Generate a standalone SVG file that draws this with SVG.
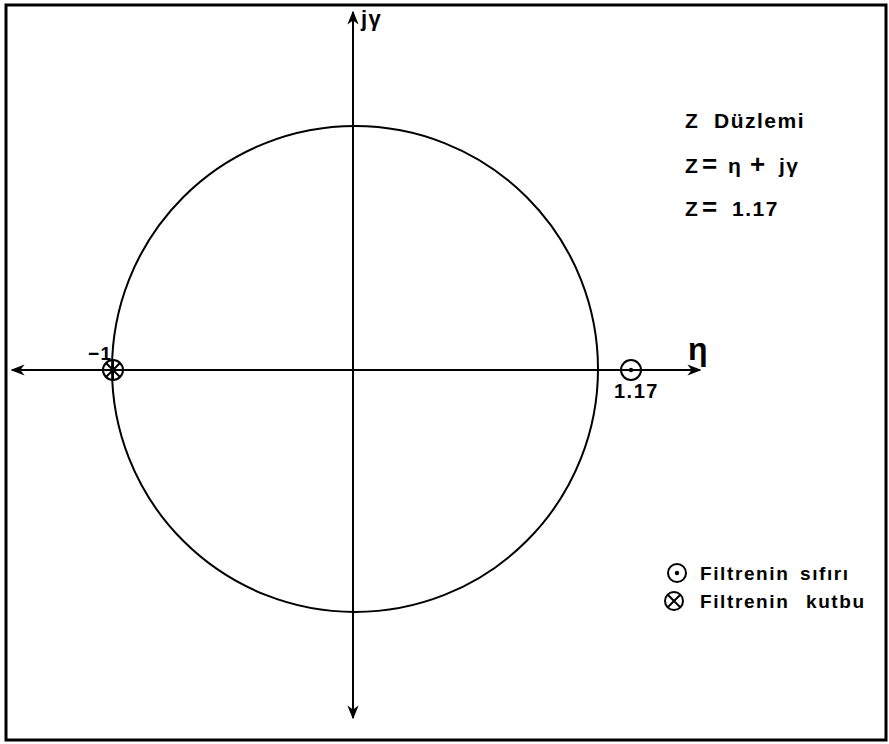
<svg xmlns="http://www.w3.org/2000/svg" width="889" height="744" viewBox="0 0 889 744">
<defs>
<marker id="ah" viewBox="0 0 10 10" refX="9" refY="5" markerWidth="14" markerHeight="14" markerUnits="userSpaceOnUse" orient="auto-start-reverse">
<path d="M0,1 L10,5 L0,9 L3,5 Z" fill="#000"/>
</marker>
</defs>
<style>
.ln{stroke:#000;fill:none;stroke-width:2}
.t{font-family:"Liberation Sans",Arial,sans-serif;font-weight:bold;font-size:21px;fill:#000;letter-spacing:1.5px}
.s{font-family:"Liberation Sans",Arial,sans-serif;font-weight:bold;font-size:19px;fill:#000;letter-spacing:1.6px}
.eq{font-size:26px}
</style>
<rect x="6" y="5" width="880" height="735" fill="#fff" stroke="#000" stroke-width="3"/>
<g id="connectors">
<line class="ln" x1="353" y1="718" x2="353" y2="12" marker-end="url(#ah)" marker-start="url(#ah)"/>
<line class="ln" x1="12" y1="370" x2="700" y2="370" marker-end="url(#ah)" marker-start="url(#ah)"/>
</g>
<g id="unit-circle"><circle class="ln" cx="355" cy="369" r="243"/></g>
<g id="pole">
<circle class="ln" cx="113" cy="370" r="10" stroke-width="2.5"/>
<path class="ln" d="M103,370 H123 M113,360 V380 M106,363 L120,377 M120,363 L106,377" stroke-width="1.8"/>
<text class="t" x="88" y="360" style="font-size:19px">−1</text>
</g>
<g id="zero">
<circle class="ln" cx="631" cy="370" r="10" stroke-width="2.2"/>
<circle cx="631" cy="370" r="2.2" fill="#000"/>
<text class="t" x="614" y="398" style="font-size:20px">1.17</text>
</g>
<g id="axis-labels">
<text class="t" x="361" y="26" style="font-size:22px">jγ</text>
<text class="t" x="688" y="360" style="font-size:32px">η</text>
</g>
<g id="info">
<text class="t" y="128"><tspan x="685">Z</tspan><tspan x="714">Düzlemi</tspan></text>
<text class="t" y="173"><tspan x="685">Z</tspan><tspan x="702" class="eq">=</tspan><tspan x="728">η</tspan><tspan x="750" class="eq">+</tspan><tspan x="779">jγ</tspan></text>
<text class="t" y="216"><tspan x="685">Z</tspan><tspan x="702" class="eq">=</tspan><tspan x="732">1.17</tspan></text>
</g>
<g id="legend">
<circle class="ln" cx="677" cy="573" r="9"/>
<circle cx="677" cy="573" r="2.2" fill="#000"/>
<text class="s" y="580"><tspan x="700">Filtrenin</tspan><tspan x="800">sıfırı</tspan></text>
<circle class="ln" cx="674" cy="601" r="9"/>
<path class="ln" d="M668,595 L680,607 M680,595 L668,607"/>
<text class="s" y="608"><tspan x="700">Filtrenin</tspan><tspan x="806">kutbu</tspan></text>
</g>
</svg>
